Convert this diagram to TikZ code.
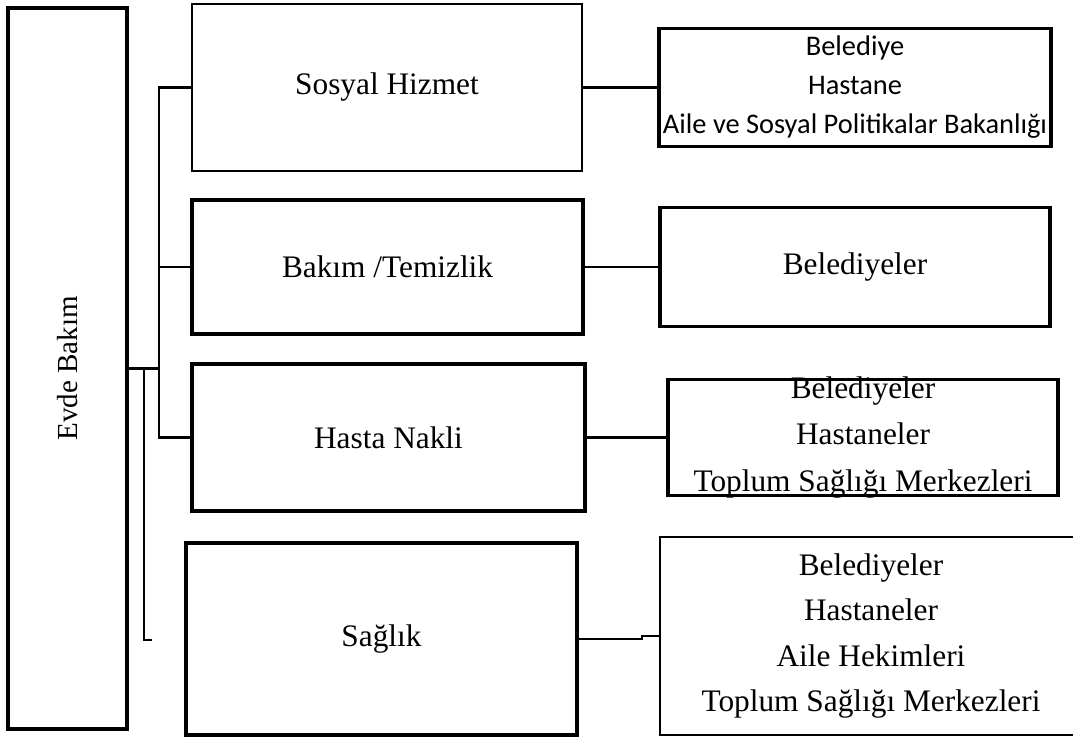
\documentclass[tikz,border=0pt]{standalone}
\usepackage{fontspec}
\setmainfont{Liberation Serif}
\newfontfamily\calibrifont{Carlito}
\newcommand\tnrsize{\fontsize{23.5pt}{28pt}\selectfont}
\newcommand\evdesize{\fontsize{21.8pt}{26pt}\selectfont}
\newcommand\calsize{\calibrifont\fontsize{21.3pt}{29.25pt}\selectfont}
\newcommand\listsizeA{\fontsize{23.5pt}{34.9pt}\selectfont}
\newcommand\listsizeB{\fontsize{23.5pt}{34pt}\selectfont}
\begin{document}
\begin{tikzpicture}[x=0.75pt,y=-0.75pt,
  box/.style={draw, rectangle, inner sep=0pt, line width=2.6pt, font=\tnrsize},
  sz/.style 2 args={minimum width=#1*0.75pt, minimum height=#2*0.75pt},
  conn/.style={line width=1.8pt}]
\path[use as bounding box, fill=white] (0,0) rectangle (1073,738);
\clip (0,0) rectangle (1073,738);

% left column
\node[box, sz={119}{721}, line width=2.8pt, label={[rotate=90, font=\evdesize]center:Evde Bakım}] (E) at (67.5,368.5) {};

% middle column
\node[box, sz={390}{167}, line width=1.9pt] (S1) at (387,87.5) {Sosyal Hizmet};
\node[box, sz={391}{134}, line width=2.9pt] (S2) at (387.5,267) {Bakım /Temizlik};
\node[box, sz={393}{147}, line width=2.9pt] (S3) at (388.5,437.5) {Hasta Nakli};
\node[box, sz={391}{192}] (S4) at (381.5,639) {Sağlık};

% right column
\node[box, sz={392}{118}, line width=2.5pt,
  label={[font=\calsize, align=center]center:Belediye\\Hastane\\Aile ve Sosyal Politikalar Bakanlığı}] (R1) at (855,87.5) {};
\node[box, sz={390}{119}] (R2) at (855,267) {Belediyeler};
\node[box, sz={390}{116}, line width=2.6pt,
  label={[font=\listsizeA, align=center]center:Belediyeler\\Hastaneler\\Toplum Sağlığı Merkezleri}] (R3) at (863,437.5) {};
\node[box, sz={422}{198}, line width=1.5pt,
  label={[font=\listsizeB, align=center]center:Belediyeler\\Hastaneler\\Aile Hekimleri\\Toplum Sağlığı Merkezleri}] (R4) at (871,636) {};

% left connectors
\coordinate (bb) at (159,437.5);
\coordinate (k1) at (144,368.5);
\coordinate (tk) at (152,640);
\draw[conn] (S1.west) -| (bb) -- (S3.west);
\draw[conn] (E.east) -- (E.east -| bb);
\draw[conn] (S2.west) -- (S2.west -| bb);
\draw[conn] (k1) |- (tk);

% right connectors
\draw[conn] (S1.east) -- (R1.west);
\draw[conn] (S2.east) -- (R2.west);
\draw[conn] (S3.east) -- (R3.west);
\draw[conn] (S4.east) -- ++(63,0) |- (R4.west);
\end{tikzpicture}
\end{document}
